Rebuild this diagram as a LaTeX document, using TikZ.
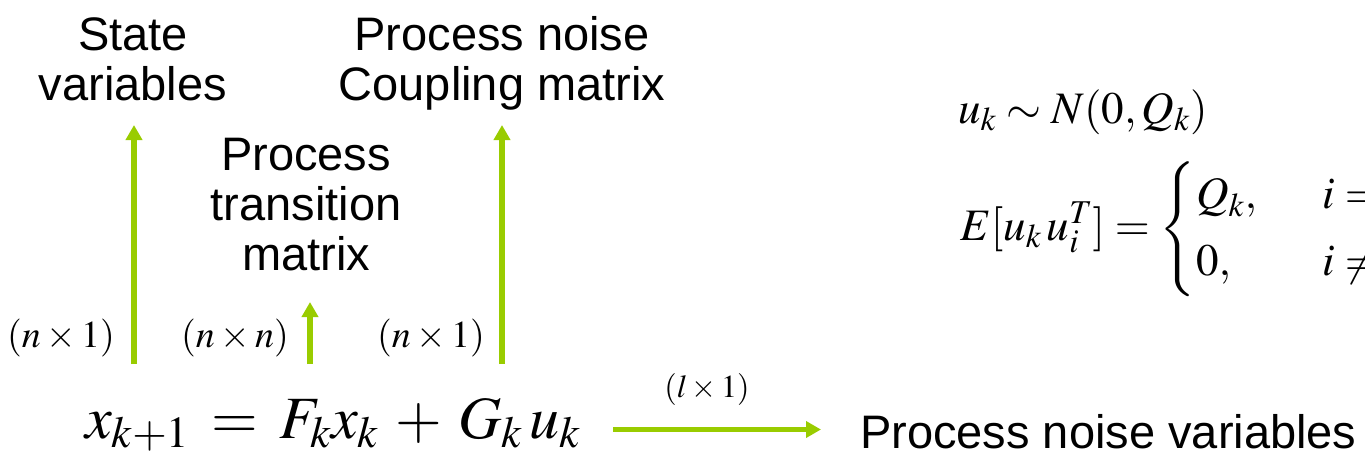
\documentclass[tikz,border=0pt]{standalone}
\usepackage{mathptmx}
\usepackage{amsmath}
\usepackage[no-math]{fontspec}
\setmainfont{Liberation Sans}
\usepackage{xcolor}
\usetikzlibrary{arrows.meta}
\definecolor{leaf}{RGB}{153,204,0}

\begin{document}
\begin{tikzpicture}[x=1pt, y=-1pt, >={Triangle[length=15pt, width=16pt]},
  every node/.style={inner sep=0pt, align=center, font=\fontsize{47}{50}\selectfont},
  flow/.style={->, draw=leaf, line width=5.5pt},
  dims/.style={font=\fontsize{38}{40}\selectfont}]
  \clip (0,0) rectangle (1365,459);
  % what each factor is
  \node[anchor=base] (state) at (133,100) {State\\variables};
  \node[anchor=base] (transition) at (306,270) {Process\\transition\\matrix};
  \node[anchor=base] (coupling) at (502,100) {Process noise\\Coupling matrix};
  % sizes
  \node[dims] (statedim) at (61,338) {$(n\times1)$};
  \node[dims] (transdim) at (235,338) {$(n\times n)$};
  \node[dims] (coupdim) at (431,338) {$(n\times1)$};
  \node[dims, font=\fontsize{32}{36}\selectfont] (noisedim) at (707,389) {$(l\times1)$};
  % the model
  \node[anchor=base west, font=\fontsize{60}{64}\selectfont] (model) at (85,438)
    {$x_{k+1} \:=\: F_k x_k \:+\: G_k\, u_k$};
  \node[anchor=base west] (noisevars) at (860,448) {Process noise variables};
  \node[anchor=base west, font=\fontsize{45}{52}\selectfont] (noisedist) at (958,123) {$u_k \sim N(0,Q_k)$};
  \node[anchor=base west, font=\fontsize{45}{56}\selectfont] (noisecov) at (960,240)
    {$E[u_k\, u_i^T] = \begin{cases} Q_k, & \hspace{0.45em} i = k\\ 0, & \hspace{0.45em} i \neq k \end{cases}$};
  % arrows
  \coordinate (statefoot) at (134,364);
  \coordinate (statetip) at (134,125);
  \coordinate (transfoot) at (310,364);
  \coordinate (transtip) at (310,302);
  \coordinate (coupfoot) at (502,364);
  \coordinate (couptip) at (502,125);
  \coordinate (noisetail) at (613,429.5);
  \coordinate (noisetip) at (821,429.5);
  \draw[flow] (statefoot) -- (statetip);
  \draw[flow] (transfoot) -- (transtip);
  \draw[flow] (coupfoot) -- (couptip);
  \draw[flow] (noisetail) -- (noisetip);
\end{tikzpicture}
\end{document}
